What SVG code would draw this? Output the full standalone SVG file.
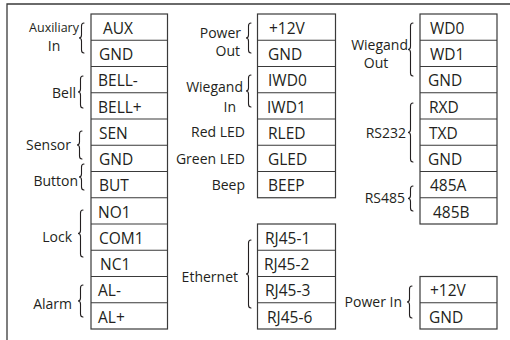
<svg xmlns="http://www.w3.org/2000/svg" width="510" height="340" viewBox="0 0 510 340">
<style>
.frame{fill:none;stroke:#3a3a3a;stroke-width:1.3}
.box{fill:#fff;stroke:#3a3a3a;stroke-width:1.2}
.div{stroke:#3a3a3a;stroke-width:1.2}
.t{font-family:"Open Sans","Noto Sans",sans-serif;font-size:15.5px;fill:#231f20}
.l{font-family:"Open Sans","Noto Sans",sans-serif;font-size:14px;fill:#231f20;text-anchor:end}
.brace{fill:none;stroke:#231f20;stroke-width:1.1;stroke-linecap:round}
</style>
<rect width="510" height="340" fill="#fff"/>
<path class="frame" d="M7,340 V4 H510"/>

<g id="col-left">
<rect class="box" x="91" y="14" width="76.5" height="315"/>
<path class="div" d="M91,40.25H167.5M91,66.5H167.5M91,92.75H167.5M91,119H167.5M91,145.25H167.5M91,171.5H167.5M91,197.75H167.5M91,224H167.5M91,250.25H167.5M91,276.5H167.5M91,302.75H167.5"/>
</g>
<g id="aux-in">
<text class="l" x="79" y="32" style="font-size:12.5px">Auxiliary</text>
<text class="l" x="54" y="51" style="text-anchor:middle">In</text>
<text class="t" x="103" y="33.5">AUX</text>
<text class="t" x="99" y="60">GND</text>
</g>
<g id="bell">
<text class="l" x="76" y="98">Bell</text>
<text class="t" x="98" y="86.3">BELL-</text>
<text class="t" x="98" y="112.5">BELL+</text>
</g>
<g id="sensor">
<text class="l" x="71" y="150">Sensor</text>
<text class="t" x="99" y="138.5">SEN</text>
<text class="t" x="99" y="165">GND</text>
</g>
<g id="button">
<text class="l" x="78" y="186">Button</text>
<text class="t" x="99" y="191">BUT</text>
</g>
<g id="lock">
<text class="l" x="72" y="242">Lock</text>
<text class="t" x="98" y="217.5">NO1</text>
<text class="t" x="99" y="243.8">COM1</text>
<text class="t" x="100" y="270">NC1</text>
</g>
<g id="alarm">
<text class="l" x="72" y="309">Alarm</text>
<text class="t" x="98" y="296">AL-</text>
<text class="t" x="98" y="322.5">AL+</text>
</g>

<g id="col-mid">
<rect class="box" x="257.5" y="14" width="78" height="183.75"/>
<path class="div" d="M257.5,40.25H335.5M257.5,66.5H335.5M257.5,92.75H335.5M257.5,119H335.5M257.5,145.25H335.5M257.5,171.5H335.5"/>
</g>
<g id="power-out">
<text class="l" x="241" y="38">Power</text>
<text class="l" x="240" y="56">Out</text>
<text class="t" x="269" y="33.5">+12V</text>
<text class="t" x="268" y="60">GND</text>
</g>
<g id="wiegand-in">
<text class="l" x="243" y="92">Wiegand</text>
<text class="l" x="236" y="112">In</text>
<text class="t" x="268" y="86.3">IWD0</text>
<text class="t" x="267" y="112.5">IWD1</text>
</g>
<g id="red-led">
<text class="l" x="245" y="137">Red LED</text>
<text class="t" x="268" y="138.5">RLED</text>
</g>
<g id="green-led">
<text class="l" x="245" y="164">Green LED</text>
<text class="t" x="268" y="165">GLED</text>
</g>
<g id="beep">
<text class="l" x="245" y="190">Beep</text>
<text class="t" x="268" y="191">BEEP</text>
</g>

<g id="ethernet">
<rect class="box" x="257.5" y="224" width="78" height="105"/>
<path class="div" d="M257.5,250.25H335.5M257.5,276.5H335.5M257.5,302.75H335.5"/>
<text class="l" x="238" y="282">Ethernet</text>
<text class="t" x="265" y="243.5">RJ45-1</text>
<text class="t" x="264" y="270">RJ45-2</text>
<text class="t" x="265" y="296">RJ45-3</text>
<text class="t" x="267" y="322.5">RJ45-6</text>
</g>

<g id="col-right">
<rect class="box" x="420" y="14" width="77" height="210"/>
<path class="div" d="M420,40.25H497M420,66.5H497M420,92.75H497M420,119H497M420,145.25H497M420,171.5H497M420,197.75H497"/>
</g>
<g id="wiegand-out">
<text class="l" x="408" y="50">Wiegand</text>
<text class="l" x="376" y="68" style="text-anchor:middle">Out</text>
<text class="t" x="430" y="33.5">WD0</text>
<text class="t" x="430" y="60">WD1</text>
<text class="t" x="428" y="86.3">GND</text>
</g>
<g id="rs232">
<text class="l" x="406" y="138">RS232</text>
<text class="t" x="429" y="112.5">RXD</text>
<text class="t" x="429" y="138.5">TXD</text>
<text class="t" x="428" y="165">GND</text>
</g>
<g id="rs485">
<text class="l" x="405" y="203">RS485</text>
<text class="t" x="430" y="191">485A</text>
<text class="t" x="433" y="217.5">485B</text>
</g>
<g id="power-in">
<rect class="box" x="420" y="276.5" width="77" height="52.5"/>
<path class="div" d="M420,302.75H497"/>
<text class="l" x="402" y="307">Power In</text>
<text class="t" x="430" y="296">+12V</text>
<text class="t" x="429" y="322.5">GND</text>
</g>

<g id="connectors">
<path class="brace" d="M84,23 Q81.5,23 81.5,26 V35 Q81.5,38 79,38 Q81.5,38 81.5,41 V50 Q81.5,53 84,53"/>
<path class="brace" d="M83,76 Q80.5,76 80.5,79 V89 Q80.5,92 78,92 Q80.5,92 80.5,95 V105 Q80.5,108 83,108"/>
<path class="brace" d="M82,131 Q79.5,131 79.5,134 V142 Q79.5,145 77,145 Q79.5,145 79.5,148 V156 Q79.5,159 82,159"/>
<path class="brace" d="M84,164 Q81.5,164 81.5,167 V174 Q81.5,177 79,177 Q81.5,177 81.5,180 V187 Q81.5,190 84,190"/>
<path class="brace" d="M83,210 Q80.5,210 80.5,213 V230.5 Q80.5,233.5 78,233.5 Q80.5,233.5 80.5,236.5 V254 Q80.5,257 83,257"/>
<path class="brace" d="M83,285 Q80.5,285 80.5,288 V298 Q80.5,301 78,301 Q80.5,301 80.5,304 V314 Q80.5,317 83,317"/>
<path class="brace" d="M251,23 Q248.5,23 248.5,26 V35 Q248.5,38 246,38 Q248.5,38 248.5,41 V50 Q248.5,53 251,53"/>
<path class="brace" d="M251,75 Q248.5,75 248.5,78 V88 Q248.5,91 246,91 Q248.5,91 248.5,94 V104 Q248.5,107 251,107"/>
<path class="brace" d="M251,240 Q248.5,240 248.5,243 V271 Q248.5,274 246,274 Q248.5,274 248.5,277 V305 Q248.5,308 251,308"/>
<path class="brace" d="M413,23 Q410.5,23 410.5,26 V46.5 Q410.5,49.5 408,49.5 Q410.5,49.5 410.5,52.5 V73 Q410.5,76 413,76"/>
<path class="brace" d="M413,103 Q410.5,103 410.5,106 V129.5 Q410.5,132.5 408,132.5 Q410.5,132.5 410.5,135.5 V159 Q410.5,162 413,162"/>
<path class="brace" d="M413,186 Q410.5,186 410.5,189 V195.5 Q410.5,198.5 408,198.5 Q410.5,198.5 410.5,201.5 V208 Q410.5,211 413,211"/>
<path class="brace" d="M412,286 Q409.5,286 409.5,289 V299 Q409.5,302 407,302 Q409.5,302 409.5,305 V315 Q409.5,318 412,318"/>
</g>
</svg>
